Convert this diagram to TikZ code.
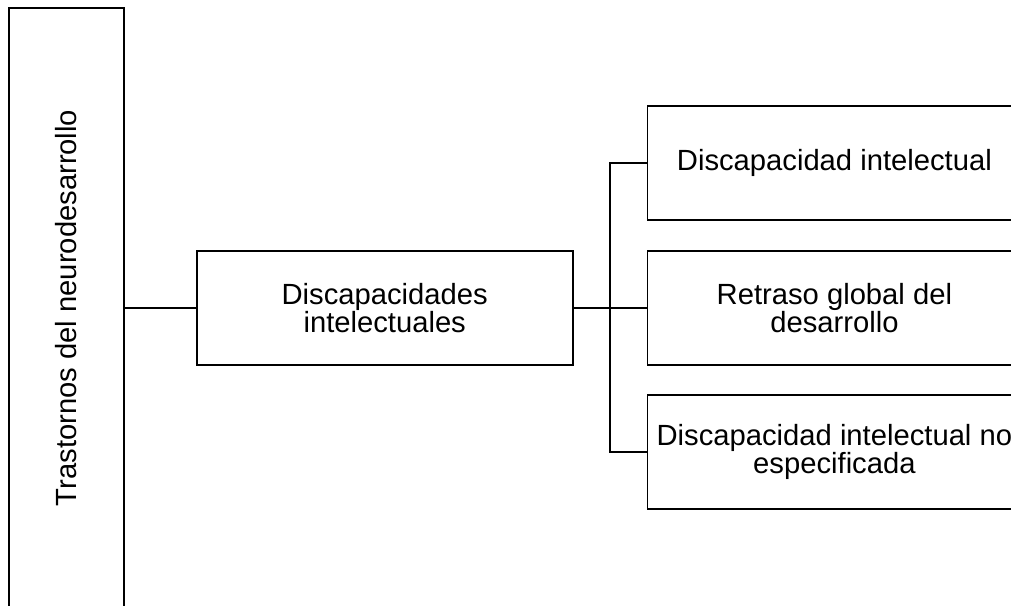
\documentclass[tikz,border=0pt]{standalone}
\usepackage{fontspec}
\setmainfont{Liberation Sans}
\usetikzlibrary{positioning,calc}

\begin{document}
\begin{tikzpicture}[font=\fontsize{14.6pt}{14pt}\selectfont, line width=0.85pt,
  box/.style={draw,minimum width=187pt,minimum height=57pt,inner sep=2pt,align=center},
  vbox/.style={draw,rotate=90,minimum width=300pt,minimum height=57.5pt,inner sep=2pt},
  conn/.style={line width=0.85pt}]
\clip (-33.25pt,-148.5pt) rectangle (472.25pt,154pt);
\node[vbox] (trast) at (0,0) {Trastornos del neurodesarrollo};
\node[box,minimum width=188pt,right=35.5pt of trast.south,anchor=west] (discs) {Discapacidades\\intelectuales};
\node[box,right=36.5pt of discs] (retraso) {Retraso global del\\desarrollo};
\node[box,above=14.5pt of retraso] (discint) {Discapacidad intelectual};
\node[box,below=14pt of retraso] (noesp) {Discapacidad intelectual no\\especificada};
\coordinate (br) at ($(discs.east)!0.5!(retraso.west)$);
\draw[conn] (trast.south)--(discs.west); \draw[conn] (discs.east)--(retraso.west);
\draw[conn] (discint.west) -| (br) |- (noesp.west);
\end{tikzpicture}
\end{document}
